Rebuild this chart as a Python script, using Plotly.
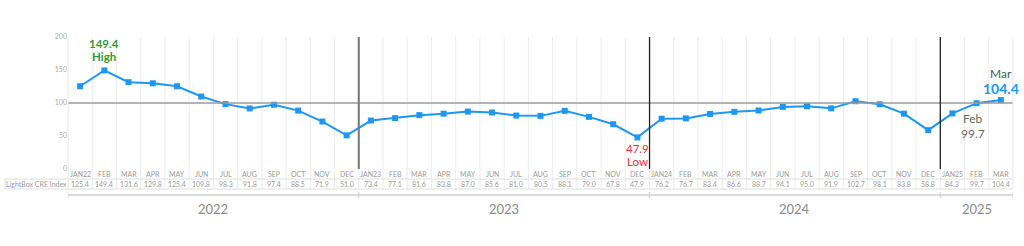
import plotly.graph_objects as go

months = ["JAN22", "FEB", "MAR", "APR", "MAY", "JUN", "JUL", "AUG", "SEP", "OCT", "NOV", "DEC",
          "JAN23", "FEB", "MAR", "APR", "MAY", "JUN", "JUL", "AUG", "SEP", "OCT", "NOV", "DEC",
          "JAN24", "FEB", "MAR", "APR", "MAY", "JUN", "JUL", "AUG", "SEP", "OCT", "NOV", "DEC",
          "JAN25", "FEB", "MAR"]
index_values = [125.4, 149.4, 131.6, 129.8, 125.4, 109.8, 98.3, 91.8, 97.4, 88.5, 71.9, 51.0,
                73.4, 77.1, 81.6, 83.8, 87.0, 85.6, 81.0, 80.5, 88.1, 79.0, 67.8, 47.9,
                76.2, 76.7, 83.4, 86.6, 88.7, 94.1, 95.0, 91.9, 102.7, 98.1, 83.8, 58.8,
                84.3, 99.7, 104.4]
years = ["2022", "2023", "2024", "2025"]
year_counts = [12, 12, 12, 3]
series_name = "LightBox CRE Index"
baseline = 100
y_ticks = [0, 50, 100, 150, 200]

FONT = "Lato, 'Open Sans', sans-serif"
BLUE = "#1e96f3"
GRID = "#ececec"
TXT = "#9a9a9a"
BORDER = "#dedede"

n = len(months)
xs = list(range(n))

W, H = 1024, 246
ML, MR, MT, MB = 68, 11, 37, 77
plot_h = H - MT - MB


def py(pix):
    """pixel row -> paper y"""
    return (H - MB - pix) / plot_h


def px(pix):
    return (pix - ML) / (W - ML - MR)


def txt(x, y, text, size, color, xref="x", yref="paper", **kw):
    d = dict(x=x, y=y, xref=xref, yref=yref, text=text, showarrow=False,
             xanchor="center", yanchor="middle", borderpad=0,
             font=dict(size=size, color=color, family=FONT))
    d.update(kw)
    return d


fig = go.Figure()

fig.add_trace(go.Scatter(
    x=xs, y=index_values, mode="lines+markers",
    line=dict(color=BLUE, width=2),
    marker=dict(symbol="square", size=6, color=BLUE),
    hoverinfo="skip", showlegend=False, cliponaxis=False,
))

shapes = []
annotations = []

# column separator lines (grid + table)
for i in range(n + 1):
    shapes.append(dict(type="line", xref="x", yref="paper", x0=i - 0.5, x1=i - 0.5,
                       y0=py(189), y1=1, line=dict(color=GRID, width=1), layer="below"))

# baseline
shapes.append(dict(type="line", xref="paper", yref="y", x0=0, x1=1, y0=baseline, y1=baseline,
                   line=dict(color="#9a9a9a", width=1.5)))

# year separators
start = 0
boundaries = []
for k, c in enumerate(year_counts):
    start += c
    if start < n:
        boundaries.append(start - 0.5)
for k, b in enumerate(boundaries):
    shapes.append(dict(type="line", xref="x", yref="y", x0=b, x1=b, y0=0, y1=200,
                       line=dict(color="#777777" if k == 0 else "#222222", width=2 if k == 0 else 1.3)))

# table borders
for yy in (189, 179):
    shapes.append(dict(type="line", xref="paper", yref="paper", x0=px(5), x1=1,
                       y0=py(yy), y1=py(yy), line=dict(color=BORDER, width=1)))
shapes.append(dict(type="line", xref="paper", yref="paper", x0=px(5), x1=px(5),
                   y0=py(189), y1=py(179), line=dict(color=BORDER, width=1)))
shapes.append(dict(type="line", xref="paper", yref="paper", x0=0, x1=0,
                   y0=py(189), y1=1, line=dict(color=GRID, width=1)))
shapes.append(dict(type="line", xref="paper", yref="paper", x0=1, x1=1,
                   y0=py(189), y1=1, line=dict(color=GRID, width=1)))

# table text
for i in range(n):
    annotations.append(txt(i, py(174), months[i], 7, TXT))
    annotations.append(txt(i, py(184), f"{index_values[i]:.1f}", 7, TXT))
annotations.append(txt(px(36), py(184), series_name, 7, TXT, xref="paper"))

# year bracket
shapes.append(dict(type="line", xref="paper", yref="paper", x0=0, x1=1, y0=py(195), y1=py(195),
                   line=dict(color="#cfcfcf", width=1.5)))
edges = [-0.5] + boundaries + [n - 0.5]
for e in edges:
    shapes.append(dict(type="line", xref="x", yref="paper", x0=e, x1=e, y0=py(192), y1=py(198),
                       line=dict(color="#cfcfcf", width=1)))
for k, yr in enumerate(years):
    annotations.append(txt((edges[k] + edges[k + 1]) / 2, py(208.5), yr, 13, "#8a8a8a"))

# callouts
hi = index_values.index(max(index_values))
lo = index_values.index(min(index_values))
GREEN = "#2e9a34"
RED = "#d9333d"
annotations.append(txt(hi, index_values[hi], f"<b>{index_values[hi]:.1f}</b>", 11.5, GREEN, yref="y", yshift=27))
annotations.append(txt(hi, index_values[hi], "<b>High</b>", 11.5, GREEN, yref="y", yshift=14))
annotations.append(txt(lo, index_values[lo], f"{index_values[lo]:.1f}", 11.5, RED, yref="y", yshift=-11))
annotations.append(txt(lo, index_values[lo], "Low", 11.5, RED, yref="y", yshift=-24))
annotations.append(txt(n - 2, index_values[n - 2], "Feb", 12, "#666666", yref="y", yshift=-15, xshift=-4))
annotations.append(txt(n - 2, index_values[n - 2], f"{index_values[n - 2]:.1f}", 12, "#666666", yref="y", yshift=-30, xshift=-4))
annotations.append(txt(n - 1, index_values[n - 1], "Mar", 12, "#555555", yref="y", yshift=27))
annotations.append(txt(n - 1, index_values[n - 1], f"<b>{index_values[n - 1]:.1f}</b>", 14, BLUE, yref="y", yshift=12))

fig.update_layout(
    width=W, height=H, margin=dict(l=ML, r=MR, t=MT, b=MB),
    paper_bgcolor="white", plot_bgcolor="white",
    font=dict(family=FONT),
    shapes=shapes, annotations=annotations,
    xaxis=dict(range=[-0.5, n - 0.5], showgrid=False, zeroline=False, showticklabels=False,
               showline=False, fixedrange=True),
    yaxis=dict(range=[0, 200], tickvals=y_ticks, showgrid=False, zeroline=False, showline=False,
               tickfont=dict(size=7, color="#aaaaaa", family=FONT), ticks="", fixedrange=True),
)

fig.write_html("out.html")
